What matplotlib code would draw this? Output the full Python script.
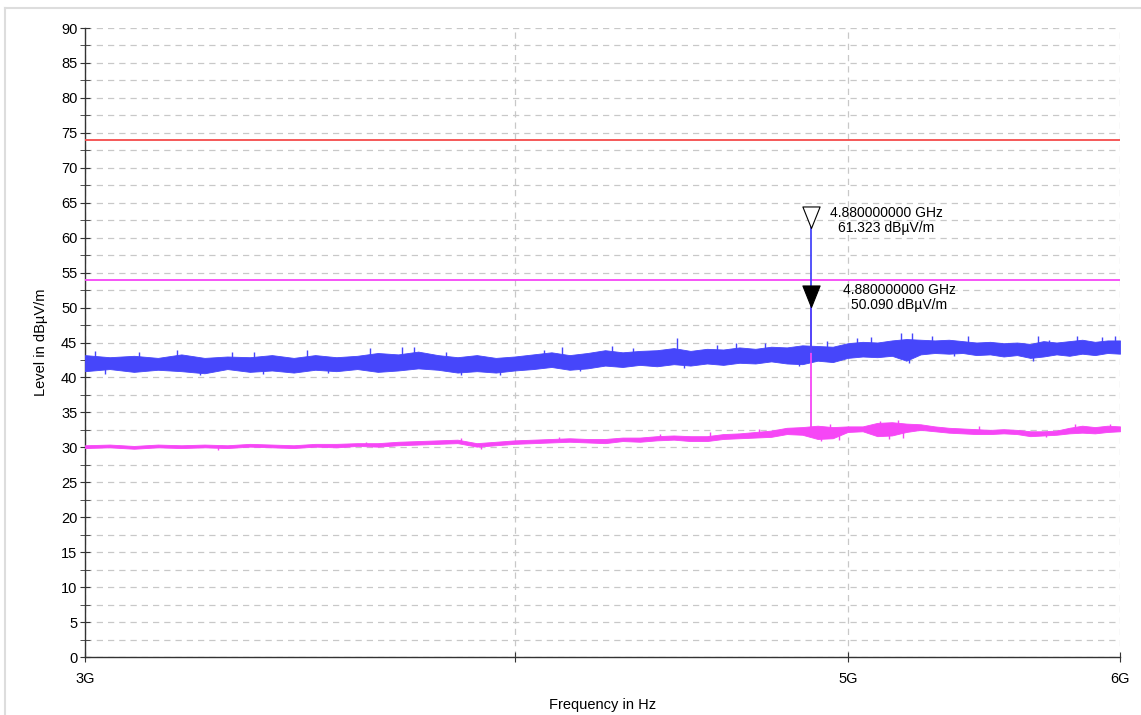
import matplotlib.pyplot as plt
import numpy as np
from matplotlib.path import Path
from matplotlib.lines import Line2D

plt.rcParams['font.family'] = ['Liberation Sans', 'DejaVu Sans']

# 频率采样点 (GHz)
freq_ghz = [3.00, 3.05, 3.10, 3.15, 3.20, 3.25, 3.30, 3.35, 3.40, 3.45,
            3.50, 3.55, 3.60, 3.65, 3.70, 3.75, 3.80, 3.85, 3.90, 3.95,
            4.00, 4.05, 4.10, 4.15, 4.20, 4.25, 4.30, 4.35, 4.40, 4.45,
            4.50, 4.55, 4.60, 4.65, 4.70, 4.75, 4.80, 4.85, 4.90, 4.95,
            5.00, 5.05, 5.10, 5.15, 5.20, 5.25, 5.30, 5.35, 5.40, 5.45,
            5.50, 5.55, 5.60, 5.65, 5.70, 5.75, 5.80, 5.85, 5.90, 5.95,
            6.00]

# 峰值迹线 (蓝) 的上下包络
peak_lo = [40.9, 41.2, 40.8, 41.1, 40.9, 40.6, 41.2, 40.8, 41.0, 40.7,
           41.1, 40.9, 41.2, 40.8, 41.0, 41.3, 41.1, 40.7, 40.9, 40.7,
           41.0, 41.2, 41.5, 41.1, 41.3, 41.7, 41.5, 41.8, 41.6, 41.9,
           41.7, 42.0, 41.8, 42.1, 42.0, 42.3, 42.0, 41.9, 42.4, 42.2,
           42.8, 43.0, 42.9, 43.1, 42.4, 43.3, 43.5, 43.4, 43.5, 43.2,
           43.3, 43.0, 43.2, 42.8, 43.0, 43.3, 43.1, 43.4, 43.2, 43.5,
           43.4]
peak_hi = [43.2, 42.9, 43.1, 42.8, 43.3, 42.8, 43.0, 42.9, 43.2, 42.8,
           43.2, 42.9, 43.1, 43.5, 43.3, 43.7, 43.2, 42.9, 43.2, 42.8,
           43.0, 43.3, 43.6, 43.2, 43.5, 43.9, 43.6, 43.8, 43.9, 44.2,
           43.8, 44.1, 44.0, 44.3, 44.1, 44.4, 44.3, 44.6, 44.5, 44.4,
           44.9, 45.1, 45.0, 45.3, 45.5, 45.4, 45.3, 45.4, 45.2, 45.0,
           45.1, 44.9, 45.0, 44.8, 45.2, 45.0, 45.2, 45.4, 45.1, 45.3,
           45.3]

# 峰值迹线的毛刺 (频率 GHz, 电平)
peak_spike_f = [3.02, 3.11, 3.19, 3.31, 3.36, 3.48, 3.63, 3.71, 3.74, 3.82,
                4.08, 4.13, 4.27, 4.33, 4.46, 4.58, 4.64, 4.73, 4.93, 5.03,
                5.08, 5.18, 5.22, 5.29, 5.42, 5.68, 5.72, 5.83, 5.93, 5.98,
                3.04, 3.24, 3.38, 3.53, 3.86, 3.96, 4.18, 4.48, 4.84, 5.21,
                5.37, 5.66]
peak_spike_v = [43.8, 43.7, 43.9, 43.6, 43.7, 43.9, 44.2, 44.4, 44.3, 43.7,
                44.0, 44.3, 44.5, 44.2, 45.6, 44.7, 44.9, 45.0, 45.2, 45.6,
                45.8, 46.3, 46.4, 46.0, 45.9, 46.0, 45.3, 45.9, 45.8, 45.9,
                40.5, 40.3, 40.5, 40.6, 40.3, 40.4, 40.9, 41.4, 41.6, 42.0,
                43.0, 42.4]

# 平均值迹线 (粉) 的上下包络
avg_lo = [29.9, 30.0, 29.8, 30.0, 29.9, 30.0, 29.9, 30.1, 30.0, 29.9,
          30.1, 30.0, 30.2, 30.1, 30.3, 30.4, 30.5, 30.6, 30.1, 30.3,
          30.5, 30.6, 30.7, 30.8, 30.7, 30.6, 30.9, 30.8, 31.0, 31.1,
          30.9, 30.9, 31.2, 31.3, 31.4, 31.5, 31.9, 31.8, 31.2, 31.3,
          32.2, 32.3, 31.6, 31.7, 32.2, 32.5, 32.3, 32.1, 32.0, 31.9,
          31.9, 32.0, 31.9, 31.6, 31.7, 31.8, 32.0, 32.1, 32.0, 32.2,
          32.3]
avg_hi = [30.3, 30.4, 30.2, 30.4, 30.3, 30.4, 30.3, 30.5, 30.4, 30.3,
          30.5, 30.5, 30.6, 30.6, 30.8, 30.9, 31.0, 31.1, 30.6, 30.8,
          31.0, 31.1, 31.2, 31.3, 31.2, 31.2, 31.4, 31.4, 31.6, 31.7,
          31.6, 31.6, 31.9, 32.0, 32.2, 32.4, 32.8, 32.9, 33.1, 32.9,
          33.0, 33.0, 33.5, 33.6, 33.4, 33.3, 33.0, 32.8, 32.7, 32.6,
          32.5, 32.6, 32.5, 32.3, 32.3, 32.4, 32.8, 33.1, 32.9, 33.1,
          33.0]

# 平均值迹线的毛刺
avg_spike_f = [3.28, 3.62, 3.86, 3.91, 4.12, 4.41, 4.56, 4.71, 4.91, 4.94,
               4.97, 5.11, 5.14, 5.17, 5.19, 5.46, 5.71, 5.82, 5.96]
avg_spike_v = [29.6, 30.7, 31.3, 29.8, 31.5, 31.9, 32.2, 32.6, 30.9, 33.4,
               31.0, 33.8, 31.2, 33.9, 31.4, 33.0, 31.5, 33.3, 33.4]

# 限值线
limit_peak = 74.0
limit_avg = 54.0

# 标记
marker_freq_ghz = 4.88
marker_peak = 61.323
marker_avg = 50.090
marker_peak_trace = 43.6
marker_avg_trace = 32.3

x_tick_ghz = [3, 4, 5, 6]
x_tick_labels = ['3G', '', '5G', '6G']

BLUE = '#4646fa'
PINK = '#f646f6'
RED = '#f54b4b'
GRID = '#c8c8c8'

fig = plt.figure(figsize=(11.41, 7.15), dpi=100)
ax = fig.add_axes([0.0745, 0.0811, 0.9071, 0.8797])

f = np.array(freq_ghz) * 1e9


def spike_base(sf, lo, hi):
    # 毛刺从包络中线出发
    mid = (np.array(lo) + np.array(hi)) / 2
    return np.interp(np.array(sf) * 1e9, f, mid)


ax.fill_between(f, avg_lo, avg_hi, color=PINK, lw=0.6, zorder=3)
ax.vlines(np.array(avg_spike_f) * 1e9, spike_base(avg_spike_f, avg_lo, avg_hi),
          avg_spike_v, color=PINK, lw=1.0, zorder=3)
ax.fill_between(f, peak_lo, peak_hi, color=BLUE, lw=0.6, zorder=3)
ax.vlines(np.array(peak_spike_f) * 1e9, spike_base(peak_spike_f, peak_lo, peak_hi),
          peak_spike_v, color=BLUE, lw=1.0, zorder=3)

ax.axhline(limit_peak, color=RED, lw=1.3, zorder=4)
ax.axhline(limit_avg, color=PINK, lw=1.3, zorder=4)

mf = marker_freq_ghz * 1e9
ax.plot([mf, mf], [marker_avg, marker_avg_trace], color=PINK, lw=1.3, zorder=5)
ax.plot([mf, mf], [marker_peak, marker_peak_trace], color=BLUE, lw=1.3, zorder=6)

# 三角形标记, 尖端位于数据点
tri = Path([(-0.4, 1.0), (0.4, 1.0), (0.0, 0.0), (-0.4, 1.0)],
           [Path.MOVETO, Path.LINETO, Path.LINETO, Path.CLOSEPOLY])
ax.plot([mf], [marker_peak], marker=tri, ms=31, mfc='white', mec='black',
        mew=0.8, ls='none', zorder=7, clip_on=False)
ax.plot([mf], [marker_avg], marker=tri, ms=31, mfc='black', mec='black',
        mew=0.8, ls='none', zorder=7, clip_on=False)

ax.annotate(f'{marker_freq_ghz:.9f} GHz\n{marker_peak:.3f} dBµV/m',
            xy=(mf, marker_peak), xytext=(54, 6), textcoords='offset points',
            ha='center', va='center', fontsize=10, linespacing=1.1, zorder=8)
ax.annotate(f'{marker_freq_ghz:.9f} GHz\n{marker_avg:.3f} dBµV/m',
            xy=(mf, marker_avg), xytext=(63, 7), textcoords='offset points',
            ha='center', va='center', fontsize=10, linespacing=1.1, zorder=8)

ax.set_xscale('log')
ax.set_xlim(3e9, 6e9)
ax.set_ylim(0, 90)
ax.set_xticks([t * 1e9 for t in x_tick_ghz])
ax.set_xticklabels(x_tick_labels)
ax.xaxis.set_minor_locator(plt.NullLocator())
ax.set_yticks(np.arange(0, 91, 5))
ax.set_yticks(np.arange(2.5, 90, 5), minor=True)

ax.grid(True, which='both', axis='y', color=GRID, ls=(0, (5, 4)), lw=0.9)
ax.grid(True, which='major', axis='x', color=GRID, ls=(0, (5, 4)), lw=0.9)
ax.set_axisbelow(True)

for s in ['top', 'right']:
    ax.spines[s].set_visible(False)
for s in ['left', 'bottom']:
    ax.spines[s].set_color('#333333')
    ax.spines[s].set_linewidth(1.0)

ax.tick_params(axis='both', which='both', direction='inout', colors='#333333',
               labelcolor='black', labelsize=10.5)
ax.tick_params(axis='y', which='major', length=7, pad=2)
ax.tick_params(axis='y', which='minor', length=7)
ax.tick_params(axis='x', which='major', length=7, pad=7)

ax.set_xlabel('Frequency in Hz', fontsize=10.5, labelpad=9)
ax.set_ylabel('Level in dBµV/m', fontsize=10.5, labelpad=9)

# 外框 (左侧与顶部的浅灰边)
fig.add_artist(Line2D([5 / 1141, 5 / 1141], [0, 1 - 8 / 715],
                      transform=fig.transFigure, color='#dddddd', lw=1.5))
fig.add_artist(Line2D([5 / 1141, 1], [1 - 8 / 715, 1 - 8 / 715],
                      transform=fig.transFigure, color='#dddddd', lw=1.5))

fig.savefig('out.png', dpi=100)
